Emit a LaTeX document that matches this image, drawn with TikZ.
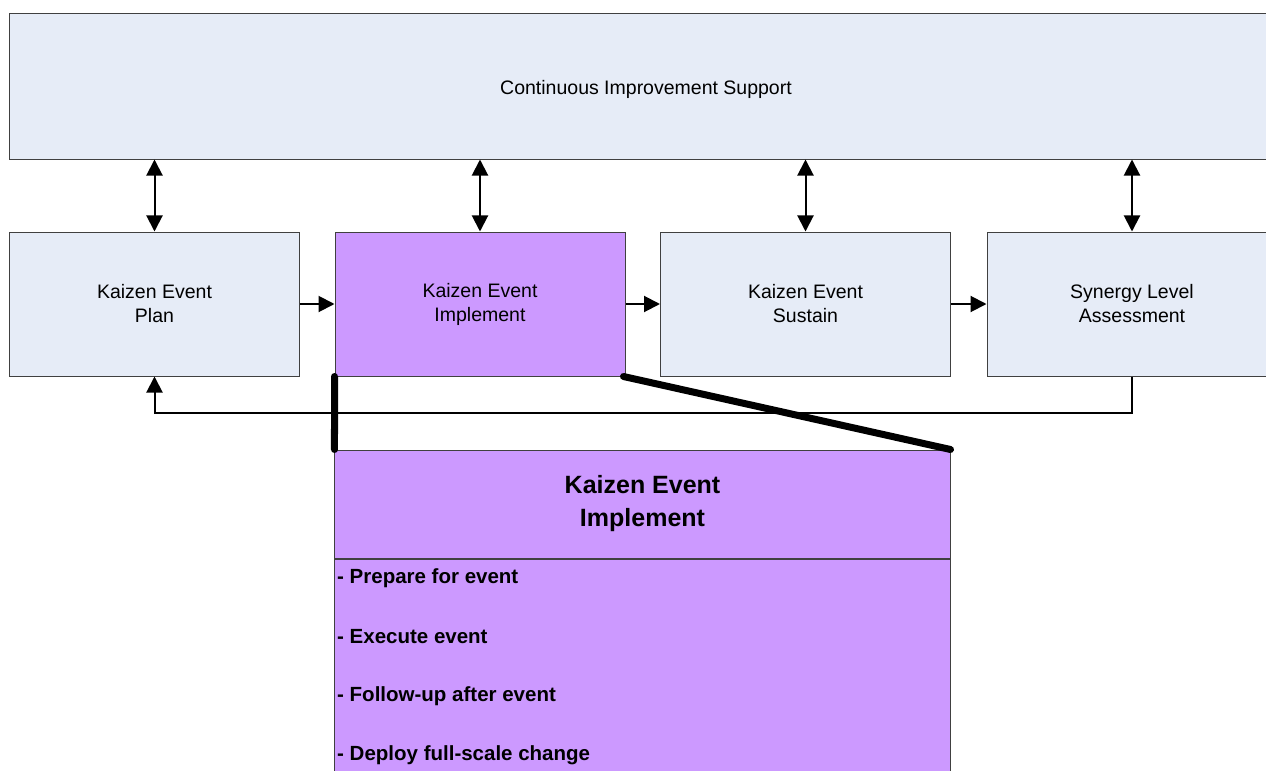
\documentclass[tikz,border=0pt]{standalone}
\usepackage{fontspec}
\setmainfont{Liberation Sans}
\usetikzlibrary{arrows.meta}
\definecolor{paleblue}{HTML}{E6ECF7}
\definecolor{lilac}{HTML}{CC99FF}
\definecolor{edge}{HTML}{404040}
\tikzset{
  box/.style={draw=edge, line width=1bp, inner sep=0pt, align=center},
  stagebox/.style={box, fill=paleblue, minimum width=290bp, minimum height=144bp,
    font=\fontsize{19.5bp}{24bp}\selectfont},
  tip/.tip={Triangle[length=16bp,width=16bp]},
  conn/.style={line width=2bp, -tip},
  dblconn/.style={line width=2bp, tip-tip},
  zoomline/.style={line width=7bp, line cap=round},
  itemtext/.style={anchor=west, inner sep=2bp, font=\fontsize{20.5bp}{24bp}\selectfont\bfseries}
}
\begin{document}
\begin{tikzpicture}[x=1bp,y=-1bp]
\useasboundingbox (0,0) rectangle (1266,771);
\clip (0,0) rectangle (1266,771);

% support layer across the top
\node[box, fill=paleblue, minimum width=1272bp, minimum height=145bp] (support) at (646,86.5) {};
\node[font=\fontsize{19.5bp}{24bp}\selectfont] (supporttext) at ([yshift=-3bp]support.center)
  {Continuous Improvement Support};

% the four stages
\node[stagebox] (plan) at (154.5,304) {Kaizen Event\\Plan};
\node[stagebox, fill=lilac] (impl) at (480,304) {Kaizen Event\\Implement};
\node[stagebox] (sustain) at (805.5,304) {Kaizen Event\\Sustain};
\node[stagebox] (synergy) at (1132,304) {Synergy Level\\Assessment};

% links to the support layer
\foreach \s in {plan,impl,sustain,synergy}
  \draw[dblconn] (\s.north |- support.south) -- (\s.north);

% stage flow
\draw[conn] (plan.east) -- (impl.west);
\draw[conn] (impl.east) -- (sustain.west);
\draw[conn] (sustain.east) -- (synergy.west);

% feedback loop
\draw[conn] (synergy.south) -- ++(0,36) -| (plan.south);

% detail of the implement stage
\node[box, fill=lilac, minimum width=615bp, minimum height=108bp,
      font=\fontsize{25bp}{33bp}\selectfont\bfseries] (detail) at (642.5,504)
  {Kaizen Event\\Implement};
\node[box, fill=lilac, minimum width=615bp, minimum height=240bp, anchor=north] (body)
  at (detail.south) {};
\node[itemtext] (i1) at (335,578) {- Prepare for event};
\node[itemtext] (i2) at (335,637) {- Execute event};
\node[itemtext] (i3) at (335,696) {- Follow-up after event};
\node[itemtext] (i4) at (335,755) {- Deploy full-scale change};

% zoom lines joining stage and detail
\draw[zoomline] (impl.south west) -- (detail.north west);
\draw[zoomline] ([xshift=-2bp]impl.south east) -- (detail.north east);
\end{tikzpicture}
\end{document}
